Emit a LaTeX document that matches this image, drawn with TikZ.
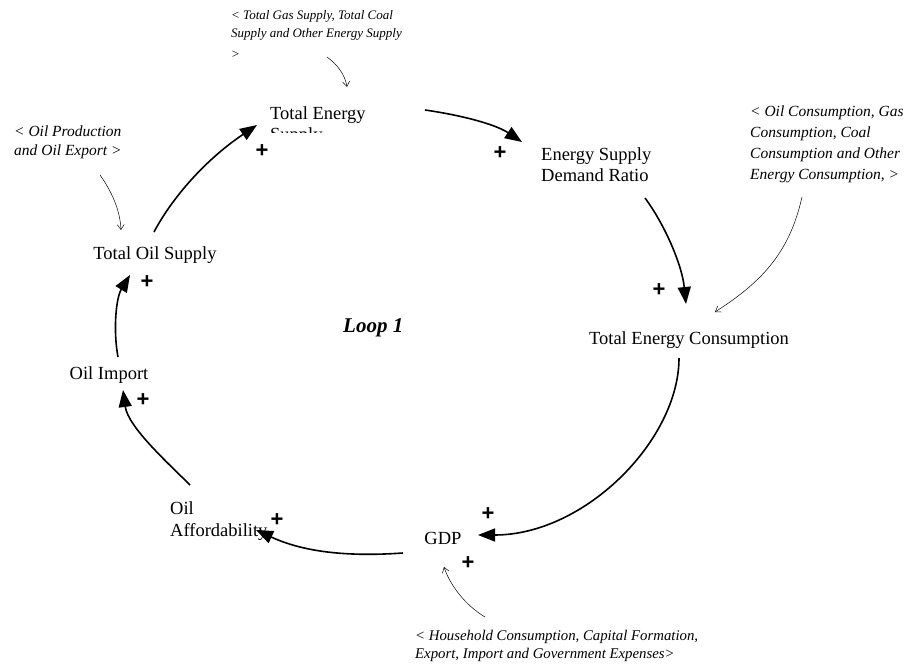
\documentclass[tikz,border=0pt]{standalone}
\usepackage{fontspec}
\setmainfont{Liberation Serif}
\newfontfamily\plusfont{Liberation Sans}
\usetikzlibrary{arrows.meta}
\tikzset{
  lbl/.style={inner sep=0pt, font=\fontsize{18.5}{21}\selectfont},
  ann/.style={inner sep=0pt, anchor=base west, font=\fontsize{15.5}{21}\selectfont\itshape},
  pls/.style={inner sep=0pt, font=\plusfont\bfseries\fontsize{22}{22}\selectfont},
  link/.style={line width=1.6pt, -{Triangle[length=17pt,width=13pt]}},
  thin/.style={line width=0.5pt, -{Straight Barb[length=5pt,width=7pt]}}
}
\begin{document}
\begin{tikzpicture}[x=1pt,y=-1pt]
\useasboundingbox (0,0) rectangle (911,666);
% main variables
\begin{scope}
\clip (250,95) rectangle (420,132.5);
\node[lbl, anchor=base west] (tes1) at (270,120) {Total Energy};
\node[lbl, anchor=base west] (tes2) at (270,141) {Supply};
\end{scope}
\node[lbl, anchor=base west] (esd1) at (541,161) {Energy Supply};
\node[lbl, anchor=base west] (esd2) at (541,182) {Demand Ratio};
\node[lbl, anchor=base] (tec) at (689,344) {Total Energy Consumption};
\node[lbl, anchor=base] (gdp) at (443,544) {GDP};
\node[lbl, anchor=base west] (oa1) at (170,514) {Oil};
\node[lbl, anchor=base west] (oa2) at (170,536) {Affordability};
\node[lbl, anchor=base] (oi) at (109,379) {Oil Import};
\node[lbl, anchor=base] (tos) at (155,259) {Total Oil Supply};
\node[inner sep=0pt, anchor=base west, font=\fontsize{21}{21}\selectfont\bfseries\itshape] (loop) at (343,332) {Loop 1};
% annotations
\node[ann, font=\fontsize{13}{19}\selectfont\itshape] (ta1) at (231,19.5) {< Total Gas Supply, Total Coal};
\node[ann, font=\fontsize{13}{19}\selectfont\itshape] (ta2) at (231,38) {Supply and Other Energy Supply};
\node[ann, font=\fontsize{13}{19}\selectfont\itshape] (ta3) at (231,59) {>};
\node[ann, font=\fontsize{15.5}{20}\selectfont\itshape] (la1) at (14,137) {< Oil Production};
\node[ann, font=\fontsize{15.5}{20}\selectfont\itshape] (la2) at (14,156) {and Oil Export >};
\node[ann] (ra1) at (750,117) {< Oil Consumption, Gas};
\node[ann] (ra2) at (750,138) {Consumption, Coal};
\node[ann] (ra3) at (750,159) {Consumption and Other};
\node[ann] (ra4) at (750,180) {Energy Consumption, >};
\node[ann, font=\fontsize{14.8}{18}\selectfont\itshape] (ba1) at (415,640) {< Household Consumption, Capital Formation,};
\node[ann, font=\fontsize{14.8}{18}\selectfont\itshape] (ba2) at (415,658) {Export, Import and Government Expenses>};
% polarity signs
\node[pls] (p1) at (262,151) {+};
\node[pls] (p2) at (500,153) {+};
\node[pls] (p3) at (659,290) {+};
\node[pls] (p4) at (488,514) {+};
\node[pls] (p5) at (468,563) {+};
\node[pls] (p6) at (277,520) {+};
\node[pls] (p7) at (143,400) {+};
\node[pls] (p8) at (147,282) {+};
% connector end points
\coordinate (tosOut) at (154,232);
\coordinate (tesIn) at (257,125);
\coordinate (tesOut) at (425,110);
\coordinate (esdIn) at (522,142);
\coordinate (esdOut) at (645,198);
\coordinate (tecIn) at (686,304);
\coordinate (tecOut) at (679,358);
\coordinate (gdpIn) at (478,535);
\coordinate (gdpOut) at (403,553);
\coordinate (oaIn) at (256,530);
\coordinate (oaOut) at (190,485);
\coordinate (oiIn) at (123,390);
\coordinate (oiOut) at (118,357);
\coordinate (tosIn) at (130,275);
\coordinate (taOut) at (327,57);
\coordinate (taIn) at (347,87);
\coordinate (laOut) at (100,175);
\coordinate (laIn) at (121,230);
\coordinate (raOut) at (802,197);
\coordinate (raIn) at (715,312);
\coordinate (baOut) at (485,617);
\coordinate (baIn) at (444,567);
% loop links
\draw[link] (tosOut) .. controls (172,198) and (205,160) .. (tesIn);
\draw[link] (tesOut) .. controls (460,115) and (495,124) .. (esdIn);
\draw[link] (esdOut) .. controls (665,225) and (682,265) .. (tecIn);
\draw[link] (tecOut) .. controls (679,440) and (585,535) .. (gdpIn);
\draw[link] (gdpOut) .. controls (360,556) and (310,555) .. (oaIn);
\draw[link] (oaOut) .. controls (168,463) and (128,427) .. (oiIn);
\draw[link] (oiOut) .. controls (113,330) and (116,298) .. (tosIn);
% thin links
\draw[thin] (taOut) .. controls (338,65) and (345,75) .. (taIn);
\draw[thin] (laOut) .. controls (112,192) and (120,210) .. (laIn);
\draw[thin] (raOut) .. controls (790,250) and (765,280) .. (raIn);
\draw[thin] (baOut) .. controls (465,605) and (450,585) .. (baIn);
\end{tikzpicture}
\end{document}
